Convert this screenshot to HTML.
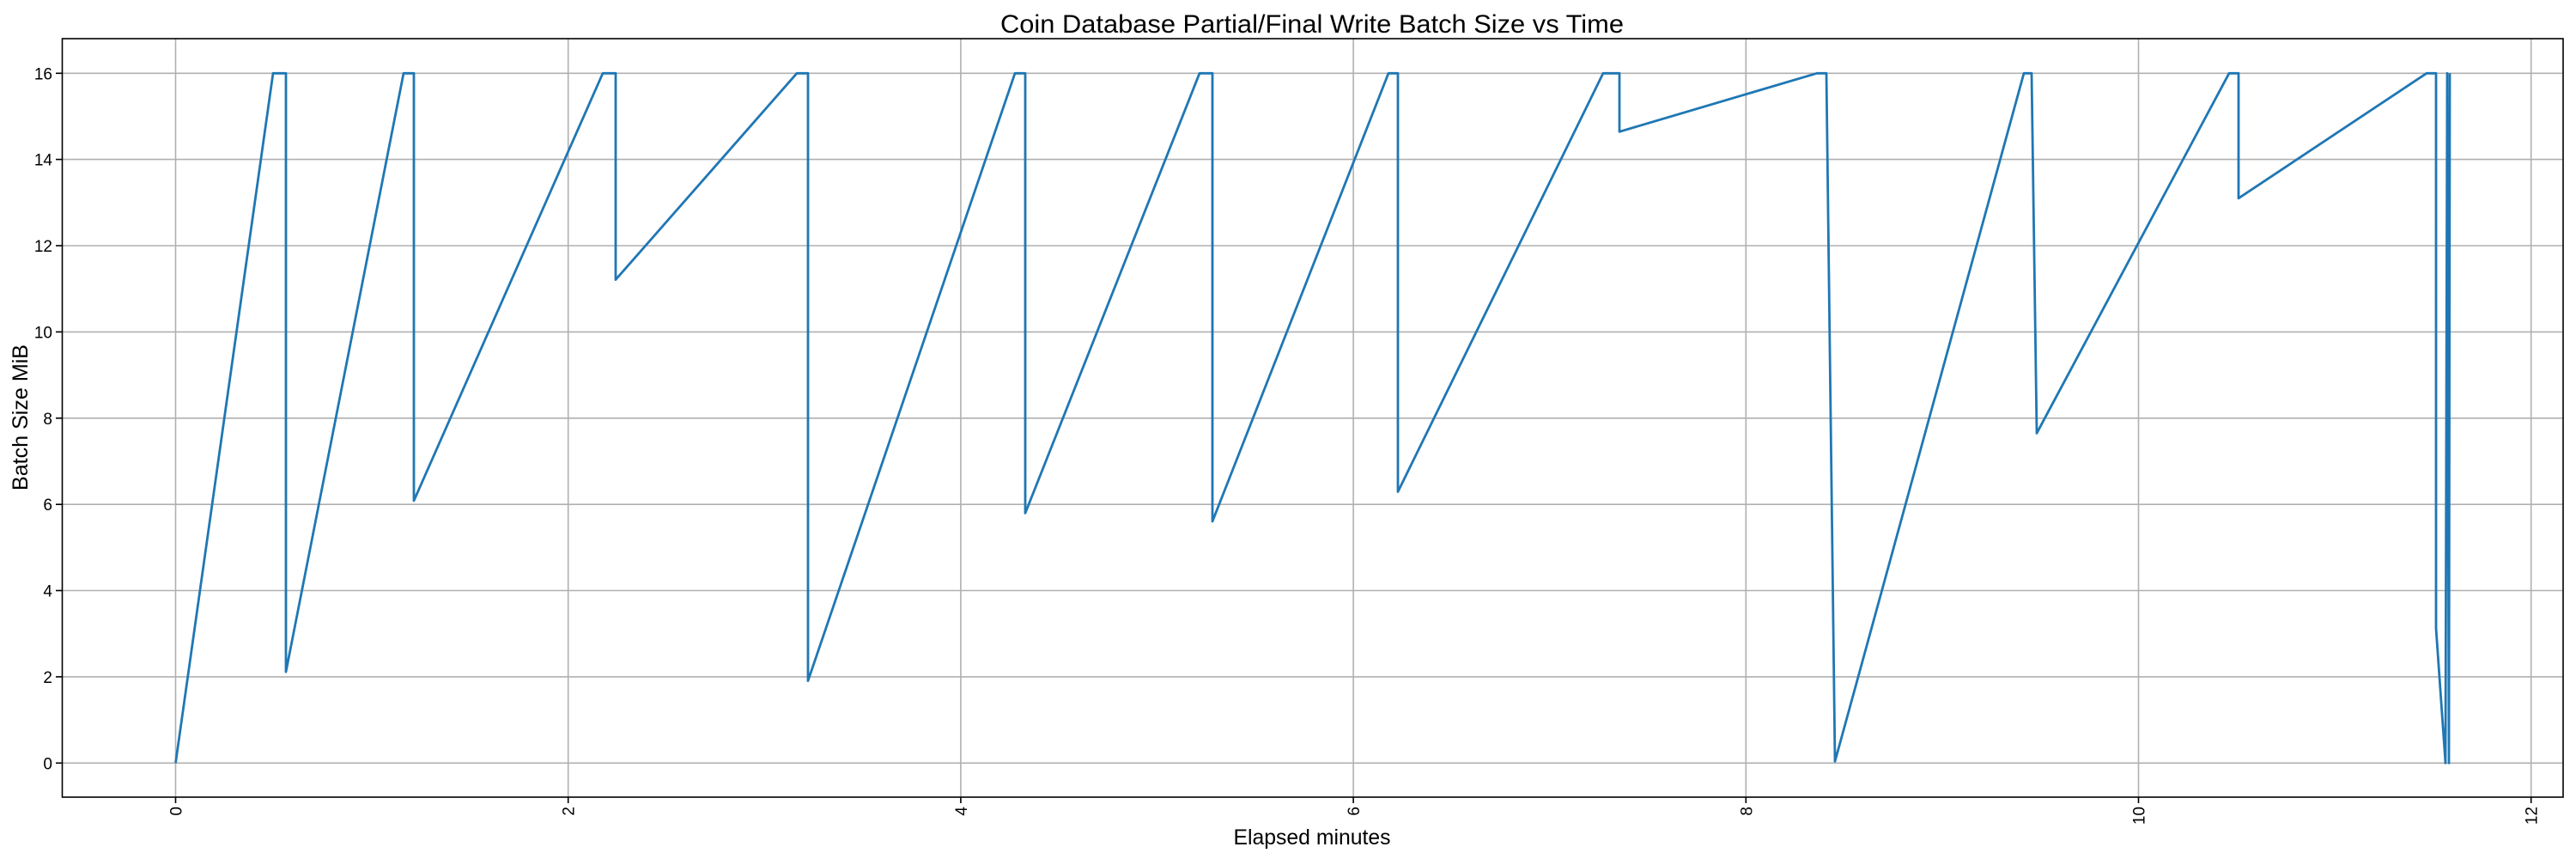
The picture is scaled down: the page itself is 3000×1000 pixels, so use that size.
<!DOCTYPE html>
<html><head><meta charset="utf-8"><style>html,body{margin:0;padding:0;background:#fff}svg{display:block}</style></head>
<body>
<svg width="3000" height="1000" viewBox="0 0 3000 1000" xmlns="http://www.w3.org/2000/svg" font-family="Liberation Sans, DejaVu Sans, sans-serif">
<rect width="3000" height="1000" fill="#fff"/>
<g stroke="#b0b0b0" stroke-width="1.6">
<line x1="204.5" y1="45" x2="204.5" y2="928"/>
<line x1="661.7" y1="45" x2="661.7" y2="928"/>
<line x1="1118.9" y1="45" x2="1118.9" y2="928"/>
<line x1="1576.1" y1="45" x2="1576.1" y2="928"/>
<line x1="2033.3" y1="45" x2="2033.3" y2="928"/>
<line x1="2490.5" y1="45" x2="2490.5" y2="928"/>
<line x1="2947.7" y1="45" x2="2947.7" y2="928"/>
<line x1="72" y1="888.3" x2="2985" y2="888.3"/>
<line x1="72" y1="787.9" x2="2985" y2="787.9"/>
<line x1="72" y1="687.5" x2="2985" y2="687.5"/>
<line x1="72" y1="587.2" x2="2985" y2="587.2"/>
<line x1="72" y1="486.8" x2="2985" y2="486.8"/>
<line x1="72" y1="386.4" x2="2985" y2="386.4"/>
<line x1="72" y1="286.0" x2="2985" y2="286.0"/>
<line x1="72" y1="185.6" x2="2985" y2="185.6"/>
<line x1="72" y1="85.3" x2="2985" y2="85.3"/>
</g>
<polyline fill="none" stroke="#1f77b4" stroke-width="2.8" stroke-linejoin="round" points="204.5,888.3 318,85.3 333,85.3 333,782.1 470,85.3 482,85.3 482,582.9 702,85.3 717,85.3 717,325.6 928,85.3 941,85.3 941,792.6 1182,85.3 1194,85.3 1194,597.4 1397,85.3 1412,85.3 1412,607 1617,85.3 1628,85.3 1628,572.5 1867,85.3 1886,85.3 1886,153.3 2116,85.3 2127,85.3 2137,886.4 2357,85.3 2366,85.3 2372,504.3 2596,85.3 2607,85.3 2607,230.8 2826,85.3 2837,85.3 2837,731.4 2848,888.3 2850,85.3 2852,888.3 2853,85.3"/>
<rect x="72.5" y="45" width="2912.5" height="883" fill="none" stroke="#000" stroke-width="1.6"/>
<g stroke="#000" stroke-width="1.6">
<line x1="204.5" y1="928" x2="204.5" y2="935"/><line x1="661.7" y1="928" x2="661.7" y2="935"/><line x1="1118.9" y1="928" x2="1118.9" y2="935"/><line x1="1576.1" y1="928" x2="1576.1" y2="935"/><line x1="2033.3" y1="928" x2="2033.3" y2="935"/><line x1="2490.5" y1="928" x2="2490.5" y2="935"/><line x1="2947.7" y1="928" x2="2947.7" y2="935"/>
<line x1="65" y1="888.3" x2="72" y2="888.3"/><line x1="65" y1="787.9" x2="72" y2="787.9"/><line x1="65" y1="687.5" x2="72" y2="687.5"/><line x1="65" y1="587.2" x2="72" y2="587.2"/><line x1="65" y1="486.8" x2="72" y2="486.8"/><line x1="65" y1="386.4" x2="72" y2="386.4"/><line x1="65" y1="286.0" x2="72" y2="286.0"/><line x1="65" y1="185.6" x2="72" y2="185.6"/><line x1="65" y1="85.3" x2="72" y2="85.3"/>
</g>
<g font-size="19" fill="#000" text-anchor="end">
<text x="61" y="895.3">0</text><text x="61" y="794.9">2</text><text x="61" y="694.5">4</text><text x="61" y="594.2">6</text><text x="61" y="493.8">8</text><text x="61" y="393.4">10</text><text x="61" y="293">12</text><text x="61" y="192.6">14</text><text x="61" y="92.3">16</text>
</g>
<g font-size="19" fill="#000" text-anchor="end">
<text transform="translate(211.5,939) rotate(-90)">0</text>
<text transform="translate(668.7,939) rotate(-90)">2</text>
<text transform="translate(1125.9,939) rotate(-90)">4</text>
<text transform="translate(1583.1,939) rotate(-90)">6</text>
<text transform="translate(2040.3,939) rotate(-90)">8</text>
<text transform="translate(2497.5,939) rotate(-90)">10</text>
<text transform="translate(2954.7,939) rotate(-90)">12</text>
</g>
<text x="1528" y="38" font-size="30" text-anchor="middle" textLength="726" lengthAdjust="spacingAndGlyphs">Coin Database Partial/Final Write Batch Size vs Time</text>
<text x="1528" y="983" font-size="25" text-anchor="middle" textLength="183" lengthAdjust="spacingAndGlyphs">Elapsed minutes</text>
<text transform="translate(32,486) rotate(-90)" font-size="25" text-anchor="middle" textLength="170" lengthAdjust="spacingAndGlyphs">Batch Size MiB</text>
</svg>
</body></html>
